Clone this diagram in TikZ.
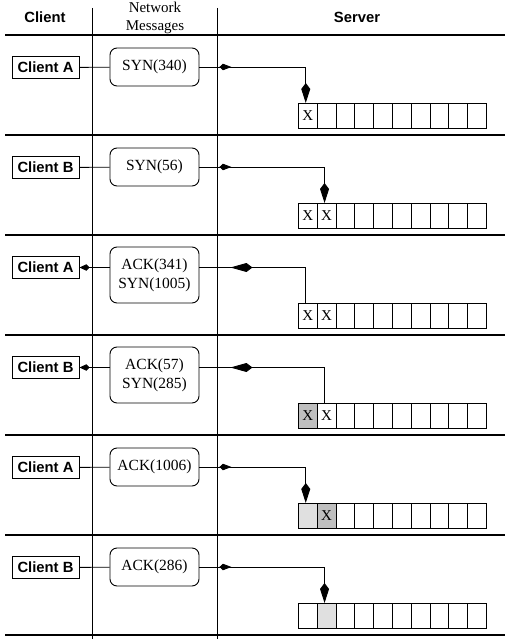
\documentclass[tikz,border=0pt]{standalone}
\usepackage{fontspec}
\setmainfont{Liberation Serif}
\setsansfont{Liberation Sans}
\usetikzlibrary{arrows.meta,decorations.markings}
\begin{document}
\begin{tikzpicture}[x=1pt,y=-1pt,
  client/.style={draw,line width=0.9pt,minimum width=67pt,minimum height=22pt,inner sep=0pt,font=\sffamily\bfseries\fontsize{14.8}{16}\selectfont},
  msg/.style={draw,line width=0.9pt,rounded corners=7pt,minimum width=89pt,minimum height=38pt,inner sep=0pt,align=center,font=\fontsize{15.5}{19}\selectfont},
  cell/.style={draw,line width=0.7pt,minimum width=18.8pt,minimum height=25pt,inner sep=0pt,anchor=north west,font=\fontsize{15}{16}\selectfont},
  xmark/.style={inner sep=0pt,font=\fontsize{15}{16}\selectfont},
  sep/.style={line width=2.2pt},
  col/.style={line width=0.9pt},
  conn/.style={line width=0.9pt},
  downtip/.style={-{Kite[length=20pt,width=9pt,inset=6pt]}},
  dark/.style={fill=black!25},
  light/.style={fill=black!12},
  fwdmark/.style={postaction={decorate},decoration={markings,mark=at position 32pt with {\arrow{Kite[length=12pt,width=6.5pt,inset=3.5pt]}}}},
  backmark/.style={postaction={decorate},decoration={markings,mark=at position 31pt with {\arrowreversed{Kite[length=22pt,width=9pt,inset=6pt]}}}},
  hdr/.style={font=\sffamily\bfseries\fontsize{14.8}{16}\selectfont}
]
\useasboundingbox (0,0) rectangle (508,639);
% header
\node[hdr] (hc) at (45,17) {Client};
\node[align=center,font=\fontsize{15}{18}\selectfont] (hn) at (155,18) {Network\\Messages};
\node[hdr] (hs) at (357,17) {Server};
% grid lines
\draw[col] (92,8) -- (92,639);
\draw[col] (217,8) -- (217,639);
\foreach \yy in {35,135,235,335,435,535,635} \draw[sep] (5,\yy) -- (505,\yy);
% client boxes
\node[client] (c1) at (45.5,67.5) {Client A};
\node[client] (c2) at (45.5,167.5) {Client B};
\node[client] (c3) at (45.5,267.5) {Client A};
\node[client] (c4) at (45.5,367.5) {Client B};
\node[client] (c5) at (45.5,467.5) {Client A};
\node[client] (c6) at (45.5,567.5) {Client B};
% message boxes
\node[msg] (m1) at (154.5,67) {SYN(340)};
\node[msg] (m2) at (154.5,167) {SYN(56)};
\node[msg,minimum height=56pt] (m3) at (154.5,275) {ACK(341)\\SYN(1005)};
\node[msg,minimum height=56pt] (m4) at (154.5,375) {ACK(57)\\SYN(285)};
\node[msg] (m5) at (154.5,467) {ACK(1006)};
\node[msg] (m6) at (154.5,567) {ACK(286)};
% buffers
\foreach \r in {1,...,6}{
  \foreach \i in {0,...,9}{
    \node[cell] (b\r c\i) at ({298+18.8*\i},{103+100*(\r-1)}) {};
  }
}
% buffer contents
\node[xmark] (x1a) at (b1c0) {X};
\node[xmark] (x2a) at (b2c0) {X}; \node[xmark] (x2b) at (b2c1) {X};
\node[xmark] (x3a) at (b3c0) {X}; \node[xmark] (x3b) at (b3c1) {X};
\node[cell,dark] (d4) at (b4c0.north west) {X};
\node[xmark] (x4b) at (b4c1) {X};
\node[cell,light] (l5) at (b5c0.north west) {};
\node[cell,dark] (d5) at (b5c1.north west) {X};
\node[cell,light] (l6) at (b6c1.north west) {};
% connectors client - message
\draw[conn] (c1) -- (m1);
\draw[conn] (c2) -- (m2);
\draw[conn,-{Kite[length=10pt,width=6.5pt,inset=3pt]}] (c3.east -| m3.west) -- (c3.east);
\draw[conn,-{Kite[length=10pt,width=6.5pt,inset=3pt]}] (c4.east -| m4.west) -- (c4.east);
\draw[conn] (c5) -- (m5);
\draw[conn] (c6) -- (m6);
% connectors message - server
\draw[conn,fwdmark,downtip] (m1.east) -| ([xshift=-2pt]b1c0.north);
\draw[conn,fwdmark,downtip] (m2.east) -| ([xshift=-2pt]b2c1.north);
\draw[conn,backmark] (c3.east -| m3.east) -| ([xshift=-2pt]b3c0.north);
\draw[conn,backmark] (c4.east -| m4.east) -| ([xshift=-2pt]b4c1.north);
\draw[conn,fwdmark,downtip] (m5.east) -| ([xshift=-2pt]b5c0.north);
\draw[conn,fwdmark,downtip] (m6.east) -| ([xshift=-2pt]b6c1.north);
\end{tikzpicture}
\end{document}
